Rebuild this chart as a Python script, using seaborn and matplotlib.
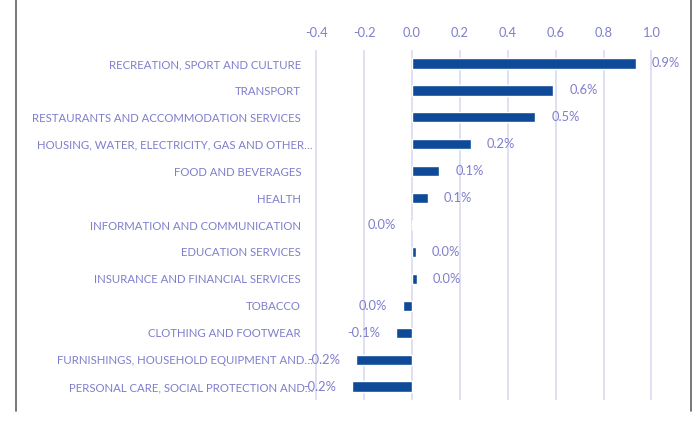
import pandas as pd
import matplotlib
matplotlib.use("Agg")
import matplotlib.pyplot as plt
import matplotlib.transforms as mtransforms
import seaborn as sns

categories = [
    "RECREATION, SPORT AND CULTURE",
    "TRANSPORT",
    "RESTAURANTS AND ACCOMMODATION SERVICES",
    "HOUSING, WATER, ELECTRICITY, GAS AND OTHER…",
    "FOOD AND BEVERAGES",
    "HEALTH",
    "INFORMATION AND COMMUNICATION",
    "EDUCATION SERVICES",
    "INSURANCE AND FINANCIAL SERVICES",
    "TOBACCO",
    "CLOTHING AND FOOTWEAR",
    "FURNISHINGS, HOUSEHOLD EQUIPMENT AND…",
    "PERSONAL CARE, SOCIAL PROTECTION AND…",
]
values = [0.935, 0.59, 0.515, 0.245, 0.114, 0.065, -0.002, 0.016, 0.02,
          -0.04, -0.066, -0.235, -0.25]
value_labels = ["0.9%", "0.6%", "0.5%", "0.2%", "0.1%", "0.1%", "0.0%",
                "0.0%", "0.0%", "0.0%", "-0.1%", "-0.2%", "-0.2%"]
ticks = [-0.4, -0.2, 0.0, 0.2, 0.4, 0.6, 0.8, 1.0]

bar_color = "#0F4A98"
text_color = "#7E7ECC"
grid_color = "#E0DFF3"

sns.set_style("white")
plt.rcParams["font.family"] = ["Lato", "DejaVu Sans"]

df = pd.DataFrame({"category": categories, "value": values})

fig = plt.figure(figsize=(6.94, 4.23), dpi=100)
ax = fig.add_axes([308 / 694, 23 / 423, 353 / 694, 350 / 423])

sns.barplot(data=df, x="value", y="category", color=bar_color,
            width=0.38, orient="h", ax=ax, saturation=1)

ax.set_xlim(-0.435, 1.04)
ax.set_xticks(ticks)
ax.set_xticklabels([f"{t:.1f}" for t in ticks])
ax.xaxis.tick_top()
ax.tick_params(axis="x", length=0, pad=8, labelsize=9.3, labelcolor=text_color)
ax.tick_params(axis="y", length=0, pad=5, labelsize=8.2, labelcolor=text_color)
ax.set_xlabel("")
ax.set_ylabel("")
ax.grid(axis="x", color=grid_color, linewidth=1.4)
ax.set_axisbelow(True)
for s in ax.spines.values():
    s.set_visible(False)

# truncated labels run a bit further right, like in the original
shift = mtransforms.ScaledTranslation(12 / 100, 0, fig.dpi_scale_trans)
for lab in ax.get_yticklabels():
    if lab.get_text().endswith("…"):
        lab.set_transform(lab.get_transform() + shift)

ax.bar_label(ax.containers[0], labels=value_labels, padding=11.5,
             fontsize=9.3, color=text_color)

# frame lines on the sides of the image
fig.add_artist(plt.Line2D([16 / 694, 16 / 694], [12 / 423, 1], color="#606060", linewidth=1.2))
fig.add_artist(plt.Line2D([691 / 694, 691 / 694], [12 / 423, 1], color="#606060", linewidth=1.2))

fig.savefig("out.png", dpi=100)
